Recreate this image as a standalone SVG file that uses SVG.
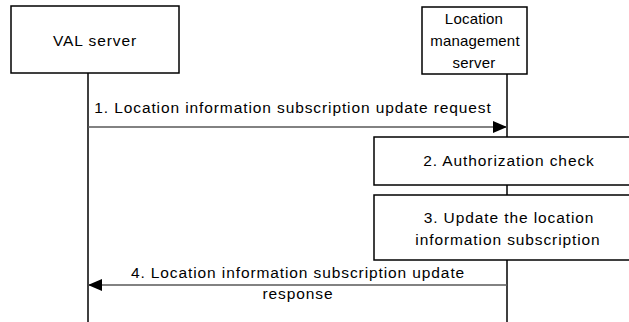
<svg xmlns="http://www.w3.org/2000/svg" width="629" height="322" viewBox="0 0 629 322">
<defs>
<style>
.box{fill:#fff;stroke:#000;stroke-width:1.5}
.life{stroke:#000;stroke-width:1.5;fill:none}
.msg{stroke:#595959;stroke-width:1.3;fill:none}
text{font-family:"Liberation Sans",Arial,sans-serif;font-size:15.5px;letter-spacing:0.9px;fill:#000;text-anchor:middle}
text.narrow{font-size:15px;letter-spacing:0.2px}
</style>
<marker id="ah" markerWidth="14" markerHeight="12" refX="14" refY="6" orient="auto" markerUnits="userSpaceOnUse">
<path d="M0,0 L14,6 L0,12 Z" fill="#000"/>
</marker>
</defs>
<rect width="629" height="322" fill="#fff"/>
<g id="connectors">
<line class="life" x1="88" y1="73" x2="88" y2="322"/>
<line class="life" x1="507" y1="74" x2="507" y2="322"/>
<line class="msg" x1="88" y1="127" x2="507" y2="127" marker-end="url(#ah)"/>
<text x="293" y="113">1. Location information subscription update request</text>
<line class="msg" x1="507" y1="285" x2="88" y2="285" marker-end="url(#ah)"/>
<text x="298" y="278">4. Location information subscription update</text>
<text x="298" y="299">response</text>
</g>
<g id="val">
<rect class="box" x="11" y="6" width="168" height="67"/>
<text x="95" y="46">VAL server</text>
</g>
<g id="lms">
<rect class="box" x="422" y="7" width="105" height="67"/>
<text class="narrow" x="474" y="24">Location</text>
<text class="narrow" x="475" y="46">management</text>
<text class="narrow" x="474" y="68">server</text>
</g>
<g id="step2">
<rect class="box" x="374" y="137" width="270" height="48"/>
<text x="509" y="166">2. Authorization check</text>
</g>
<g id="step3">
<rect class="box" x="374" y="195" width="270" height="65"/>
<text x="509" y="223">3. Update the location</text>
<text x="508" y="245">information subscription</text>
</g>
</svg>
